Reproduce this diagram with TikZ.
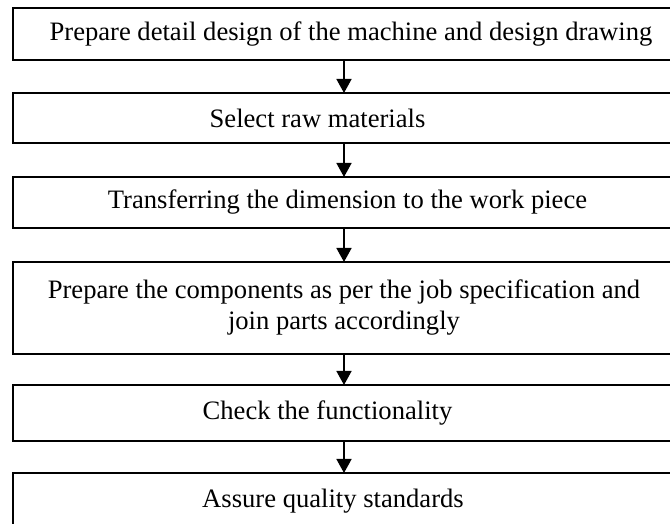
\documentclass[tikz,border=0pt]{standalone}
\usepackage{fontspec}
\setmainfont{Liberation Serif}
\usetikzlibrary{positioning, arrows.meta}
\tikzset{>={Triangle[length=7pt, width=7.5pt]}}
\tikzset{stage/.style={draw, line width=0.8pt, minimum width=331pt, inner sep=0pt, outer sep=0pt, align=center, font=\fontsize{13.3}{15.5}\selectfont}}

\begin{document}
\begin{tikzpicture}[line cap=rect]
	
	% Frame
	\path[use as bounding box, clip] (0,0) rectangle (335pt,262pt);
	
	% Nodes
	\node[stage, minimum height=26pt] (design) at (172pt,245pt) {\hspace*{7pt}Prepare detail design of the machine and design drawing};
	\node[stage, minimum height=25pt, below=16.5pt of design] (material) {Select raw materials\hspace*{26.5pt}};
	\node[stage, minimum height=25.5pt, below=17pt of material] (transfer) {\hspace*{3.5pt}Transferring the dimension to the work piece};
	\node[stage, minimum height=46pt, below=17pt of transfer] (component) {Prepare the components as per the job specification and\\join parts accordingly};
	\node[stage, minimum height=28pt, below=15.5pt of component] (check) {Check the functionality\hspace*{16.5pt}};
	\node[stage, minimum height=28pt, below=16pt of check] (quality) {Assure quality standards\hspace*{11pt}};
	
	% Arrows
	\foreach \a/\b in {design/material, material/transfer, transfer/component, component/check, check/quality}
	{
		\draw[line width=0.8pt, ->] (\a.south) -- (\b.north);
	}
\end{tikzpicture}
\end{document}
